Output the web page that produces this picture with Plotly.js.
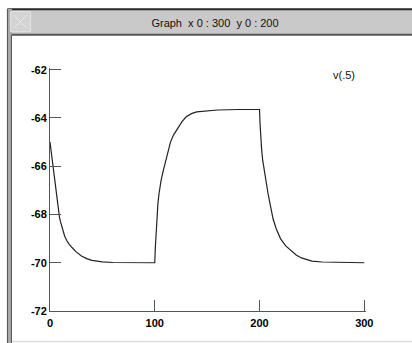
<!DOCTYPE html>
<html>
<head>
<meta charset="utf-8">
<script src="https://cdn.plot.ly/plotly-3.0.1.min.js"></script>
<style>
  html, body { margin: 0; padding: 0; background: #ffffff; }
  #chart { width: 412px; height: 343px; }
</style>
</head>
<body>
<div id="chart"></div>
<script>
// Time (ms) and membrane potential v(.5) (mV)
const timeMs = [0, 1, 2, 3, 4, 5, 6, 7, 8, 9, 10, 12, 14, 16, 18, 21, 25, 30, 35, 40, 45, 50, 60, 80, 100,
  100.5, 101, 101.5, 102, 103, 104, 105, 106, 108, 110, 112, 115, 118, 122, 126, 130, 135, 140, 150, 160, 180, 200,
  200.5, 201, 202, 203, 204, 205, 206, 208, 210, 213, 216, 220, 225, 230, 235, 240, 250, 260, 280, 300];
const voltage = [-65.0, -65.35, -65.7, -66.0, -66.4, -66.8, -67.2, -67.55, -67.82, -68.1, -68.3, -68.65, -68.9, -69.08, -69.22, -69.37, -69.55, -69.72, -69.83, -69.9, -69.94, -69.96, -69.99, -70.0, -70.0,
  -69.4, -68.9, -68.4, -68.05, -67.55, -67.15, -66.85, -66.6, -66.2, -65.85, -65.45, -65.0, -64.7, -64.4, -64.15, -63.95, -63.82, -63.75, -63.7, -63.67, -63.65, -63.65,
  -64.25, -64.7, -65.3, -65.75, -66.05, -66.35, -66.6, -67.1, -67.55, -68.2, -68.6, -69.0, -69.3, -69.5, -69.68, -69.8, -69.93, -69.97, -70.0, -70.0];
const xTicks = [0, 100, 200, 300];
const yTicks = [-72, -70, -68, -66, -64, -62];
const seriesName = "v(.5)";
const windowTitle = "Graph  x 0 : 300  y 0 : 200";

// axis pixel geometry (0 -> 50px, 300 -> 364px; -72 -> 311px, -62 -> 70px)
const X0 = 50, X300 = 364, YB = 311, YT = 70;
const sx = (X300 - X0) / 300, sy = (YB - YT) / 10;
const EXT = 1.7; // small extension so the end ticks are kept
const L = X0, R = X300 + EXT, T = YT - EXT, B = YB;
const xMax = 300 + EXT / sx, yMax = -62 + EXT / sy;
// pixel -> paper helpers for window chrome
const px = x => (x - L) / (R - L);
const py = y => (B - y) / (B - T);

const shapes = [
  {type: 'rect', xref: 'paper', yref: 'paper', x0: px(8), x1: px(420), y0: py(9), y1: py(35),
   fillcolor: '#c9c9c9', line: {width: 0}},
  {type: 'line', xref: 'paper', yref: 'paper', x0: px(8), x1: px(420), y0: py(9.5), y1: py(9.5),
   line: {color: '#2a2a2a', width: 2}},
  {type: 'line', xref: 'paper', yref: 'paper', x0: px(8), x1: px(420), y0: py(35), y1: py(35),
   line: {color: '#555555', width: 2}},
  {type: 'rect', xref: 'paper', yref: 'paper', x0: px(7), x1: px(12), y0: py(9), y1: py(343),
   fillcolor: '#a8a8a8', line: {width: 0}},
  {type: 'line', xref: 'paper', yref: 'paper', x0: px(7.5), x1: px(7.5), y0: py(9), y1: py(343),
   line: {color: '#555555', width: 1}},
  {type: 'line', xref: 'paper', yref: 'paper', x0: px(11.5), x1: px(11.5), y0: py(35), y1: py(343),
   line: {color: '#555555', width: 1}},
  {type: 'rect', xref: 'paper', yref: 'paper', x0: px(10.5), x1: px(30.5), y0: py(12), y1: py(32),
   fillcolor: '#d3d3d3', line: {color: '#e4e4e4', width: 1}},
  {type: 'line', xref: 'paper', yref: 'paper', x0: px(14), x1: px(27), y0: py(15.5), y1: py(28.5),
   line: {color: '#e8e8e8', width: 1}},
  {type: 'line', xref: 'paper', yref: 'paper', x0: px(14), x1: px(27), y0: py(28.5), y1: py(15.5),
   line: {color: '#e8e8e8', width: 1}},
  {type: 'line', xref: 'paper', yref: 'paper', x0: px(12), x1: px(420), y0: py(341.5), y1: py(341.5),
   line: {color: '#dddddd', width: 1.5}}
];

const trace = {
  x: timeMs,
  y: voltage,
  type: 'scatter',
  mode: 'lines',
  name: seriesName,
  line: {color: '#222222', width: 1.2, shape: 'linear'},
  showlegend: false,
  hoverinfo: 'skip'
};

const tickFont = {family: 'Liberation Sans, Arial, sans-serif', size: 11, color: '#000000', weight: 'bold'};

const layout = {
  width: 412,
  height: 343,
  margin: {l: L, r: 412 - R, t: T, b: 343 - B, pad: 0},
  paper_bgcolor: '#ffffff',
  plot_bgcolor: '#ffffff',
  showlegend: false,
  title: {
    text: windowTitle,
    x: 215 / 412, y: 1 - 23.5 / 343, xref: 'container', yref: 'container',
    xanchor: 'center', yanchor: 'middle',
    font: {family: 'Liberation Sans, Arial, sans-serif', size: 11, color: '#111111'}
  },
  xaxis: {
    range: [0, xMax],
    tickvals: xTicks,
    ticktext: xTicks.map(String),
    ticks: 'inside',
    ticklen: 11,
    tickcolor: '#555555',
    tickwidth: 1,
    showline: true,
    linecolor: '#555555',
    linewidth: 1,
    showgrid: false,
    zeroline: false,
    tickfont: tickFont,
    ticklabelstandoff: 2,
    fixedrange: true
  },
  yaxis: {
    range: [-72, yMax],
    tickvals: yTicks,
    ticktext: yTicks.map(String),
    ticks: 'inside',
    ticklen: 11,
    tickcolor: '#555555',
    tickwidth: 1,
    showline: true,
    linecolor: '#555555',
    linewidth: 1,
    showgrid: false,
    zeroline: false,
    tickfont: tickFont,
    fixedrange: true
  },
  shapes: shapes,
  annotations: [
    {text: seriesName, xref: 'paper', yref: 'paper', x: px(344), y: py(75),
     xanchor: 'center', yanchor: 'middle', showarrow: false,
     font: {family: 'Liberation Sans, Arial, sans-serif', size: 11, color: '#111111'}}
  ]
};

Plotly.newPlot('chart', [trace], layout, {displayModeBar: false, staticPlot: true});
</script>
</body>
</html>
